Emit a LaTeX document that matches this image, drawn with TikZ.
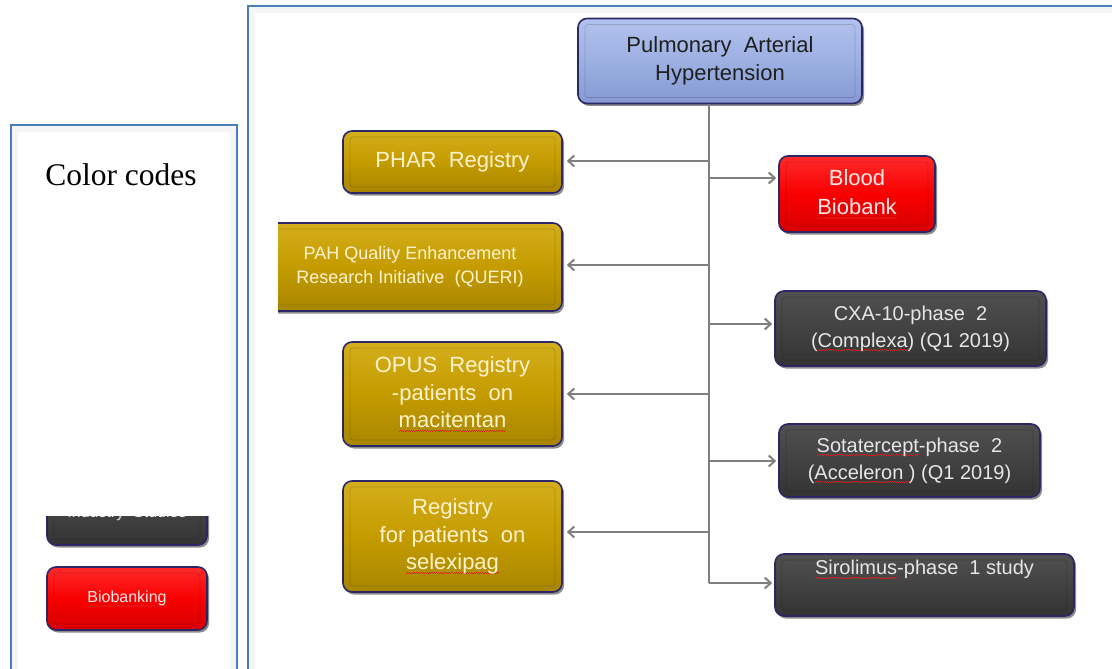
\documentclass[tikz,border=0pt]{standalone}
\usepackage{fontspec}
\setmainfont{Liberation Sans}
\newfontfamily\timesf{Liberation Serif}
\usetikzlibrary{arrows.meta,shadows}
\definecolor{frameblue}{HTML}{4A7EBB}
\definecolor{goldmid}{HTML}{C49C00}
\definecolor{goldtop}{HTML}{D4AE1C}
\definecolor{goldbot}{HTML}{A88500}
\definecolor{darktop}{HTML}{505050}
\definecolor{darkmid}{HTML}{424242}
\definecolor{darkbot}{HTML}{333333}
\definecolor{navy}{HTML}{2B2766}
\definecolor{pahtop}{HTML}{B2C2EE}
\definecolor{pahmid}{HTML}{9DB0E2}
\definecolor{pahbot}{HTML}{8598D2}
\definecolor{redtop}{HTML}{FF2A2A}
\definecolor{redmid}{HTML}{F80000}
\definecolor{redbot}{HTML}{D80000}
\definecolor{goldtext}{HTML}{FFF3CF}
\definecolor{greytext}{HTML}{E6E6E6}
\definecolor{pinktext}{HTML}{FFE8E8}
\definecolor{conncol}{HTML}{7F7F7F}
\definecolor{wavered}{HTML}{E02020}
\newcommand\spl[1]{\setbox0=\hbox{#1}\rlap{\color{wavered}\lower3.8pt\hbox to\wd0{\xleaders\hbox{\rule{1.1pt}{0.7pt}\raise0.8pt\hbox{\rule{1.1pt}{0.7pt}}}\hfil}}\box0\relax}
\tikzset{
  boxbase/.style={draw=navy, line width=1.6pt, rounded corners=9pt, align=center, inner sep=0pt,
    drop shadow={shadow xshift=2pt,shadow yshift=-2.5pt,opacity=0.45,fill=black},
    path picture={\draw[black,opacity=0.16,line width=0.8pt,rounded corners=3pt]
      ([shift={(7pt,-6pt)}]path picture bounding box.north west) rectangle
      ([shift={(-7pt,6pt)}]path picture bounding box.south east);}},
  goldbox/.style={boxbase, top color=goldtop, bottom color=goldbot, middle color=goldmid,
    text=goldtext, font=\fontsize{22}{27.5}\selectfont},
  darkbox/.style={boxbase, top color=darktop, bottom color=darkbot, middle color=darkmid,
    text=greytext, font=\fontsize{20}{27}\selectfont},
  redbox/.style={boxbase, top color=redtop, bottom color=redbot, middle color=redmid,
    text=pinktext, font=\fontsize{22}{29}\selectfont},
  pahbox/.style={boxbase, top color=pahtop, bottom color=pahbot, middle color=pahmid,
    text=black!88, font=\fontsize{22}{28}\selectfont},
  connline/.style={draw=conncol, line width=2pt},
  arr/.style={connline, -{Straight Barb[length=6pt,width=11pt]}, shorten >=4pt},
  frame/.style={draw=frameblue, line width=1.6pt},
}
\begin{document}
\begin{tikzpicture}[x=1pt,y=-1pt]
\useasboundingbox (0,0) rectangle (1112,669);
% frames
\fill[black!4] (11,125) rectangle (237,720);
\fill[white] (18,132) rectangle (230,720);
\draw[frame] (11,125) rectangle (237,720);
\fill[black!4] (248,6) rectangle (1130,720);
\fill[white] (255,13) rectangle (1130,720);
\draw[frame] (248,6) rectangle (1130,720);

\node[font=\timesf\fontsize{31.5}{36}\selectfont, text=black] (cc) at (121,175) {Color codes};

% legend
\node[darkbox, minimum width=160pt, minimum height=63pt, font=\fontsize{16}{20}\selectfont] (ind) at (127,513.5) {Industry\ \ Studies};
\fill[white] (38,470) rectangle (216,516);
\node[redbox, minimum width=160pt, minimum height=63pt, font=\fontsize{16}{20}\selectfont] (bio) at (127,598.5) {\spl{Biobanking}};

% main
\node[pahbox, minimum width=284pt, minimum height=85pt] (pah) at (720,61) {Pulmonary\ \ Arterial\\Hypertension};

\node[goldbox, minimum width=219pt, minimum height=62pt] (phar) at (452.5,162) {PHAR\ \ Registry};
\begin{scope}
  \clip (278,200) rectangle (620,330);
  \node[goldbox, minimum width=304pt, minimum height=88pt, font=\fontsize{18}{24}\selectfont] (queri) at (410,267) {PAH Quality Enhancement\\Research Initiative\ \ (QUERI)};
\end{scope}
\node[goldbox, minimum width=219pt, minimum height=104pt] (opus) at (452.5,394) {OPUS\ \ Registry\\-patients\ \ on\\\spl{macitentan}};
\node[goldbox, minimum width=219pt, minimum height=111pt] (selex) at (452.5,536.5) {Registry\\for patients\ \ on\\\spl{selexipag}};

\node[redbox, minimum width=156pt, minimum height=76pt] (blood) at (857,194) {Blood\\\spl{Biobank}};
\node[darkbox, minimum width=271pt, minimum height=75pt] (cxa) at (910.5,328.5) {CXA-10-phase\ \ 2\\(\spl{Complexa}) (Q1 2019)};
\node[darkbox, minimum width=261pt, minimum height=73pt] (sota) at (909.5,460.5) {\spl{Sotatercept}-phase\ \ 2\\(\spl{Acceleron\ }) (Q1 2019)};
\node[darkbox, minimum width=299pt, minimum height=62pt] (siro) at (924.5,585) {\spl{Sirolimus}-phase\ \ 1 study\\\strut};

% connectors
\coordinate (tend) at (709,583);
\coordinate (l1) at (709,161);
\coordinate (l2) at (709,265);
\coordinate (l3) at (709,394);
\coordinate (l4) at (709,532);
\coordinate (r1) at (709,178);
\coordinate (r2) at (709,324);
\coordinate (r3) at (709,461);
\draw[connline] (pah.south -| tend) -- (tend);
\draw[arr] (l1) -- (l1 -| phar.east);
\draw[arr] (l2) -- (l2 -| queri.east);
\draw[arr] (l3) -- (l3 -| opus.east);
\draw[arr] (l4) -- (l4 -| selex.east);
\draw[arr, shorten >=2pt] (r1) -- (r1 -| blood.west);
\draw[arr, shorten >=2pt] (r2) -- (r2 -| cxa.west);
\draw[arr, shorten >=2pt] (r3) -- (r3 -| sota.west);
\draw[arr, shorten >=2pt] (tend) -- (tend -| siro.west);
\end{tikzpicture}
\end{document}
